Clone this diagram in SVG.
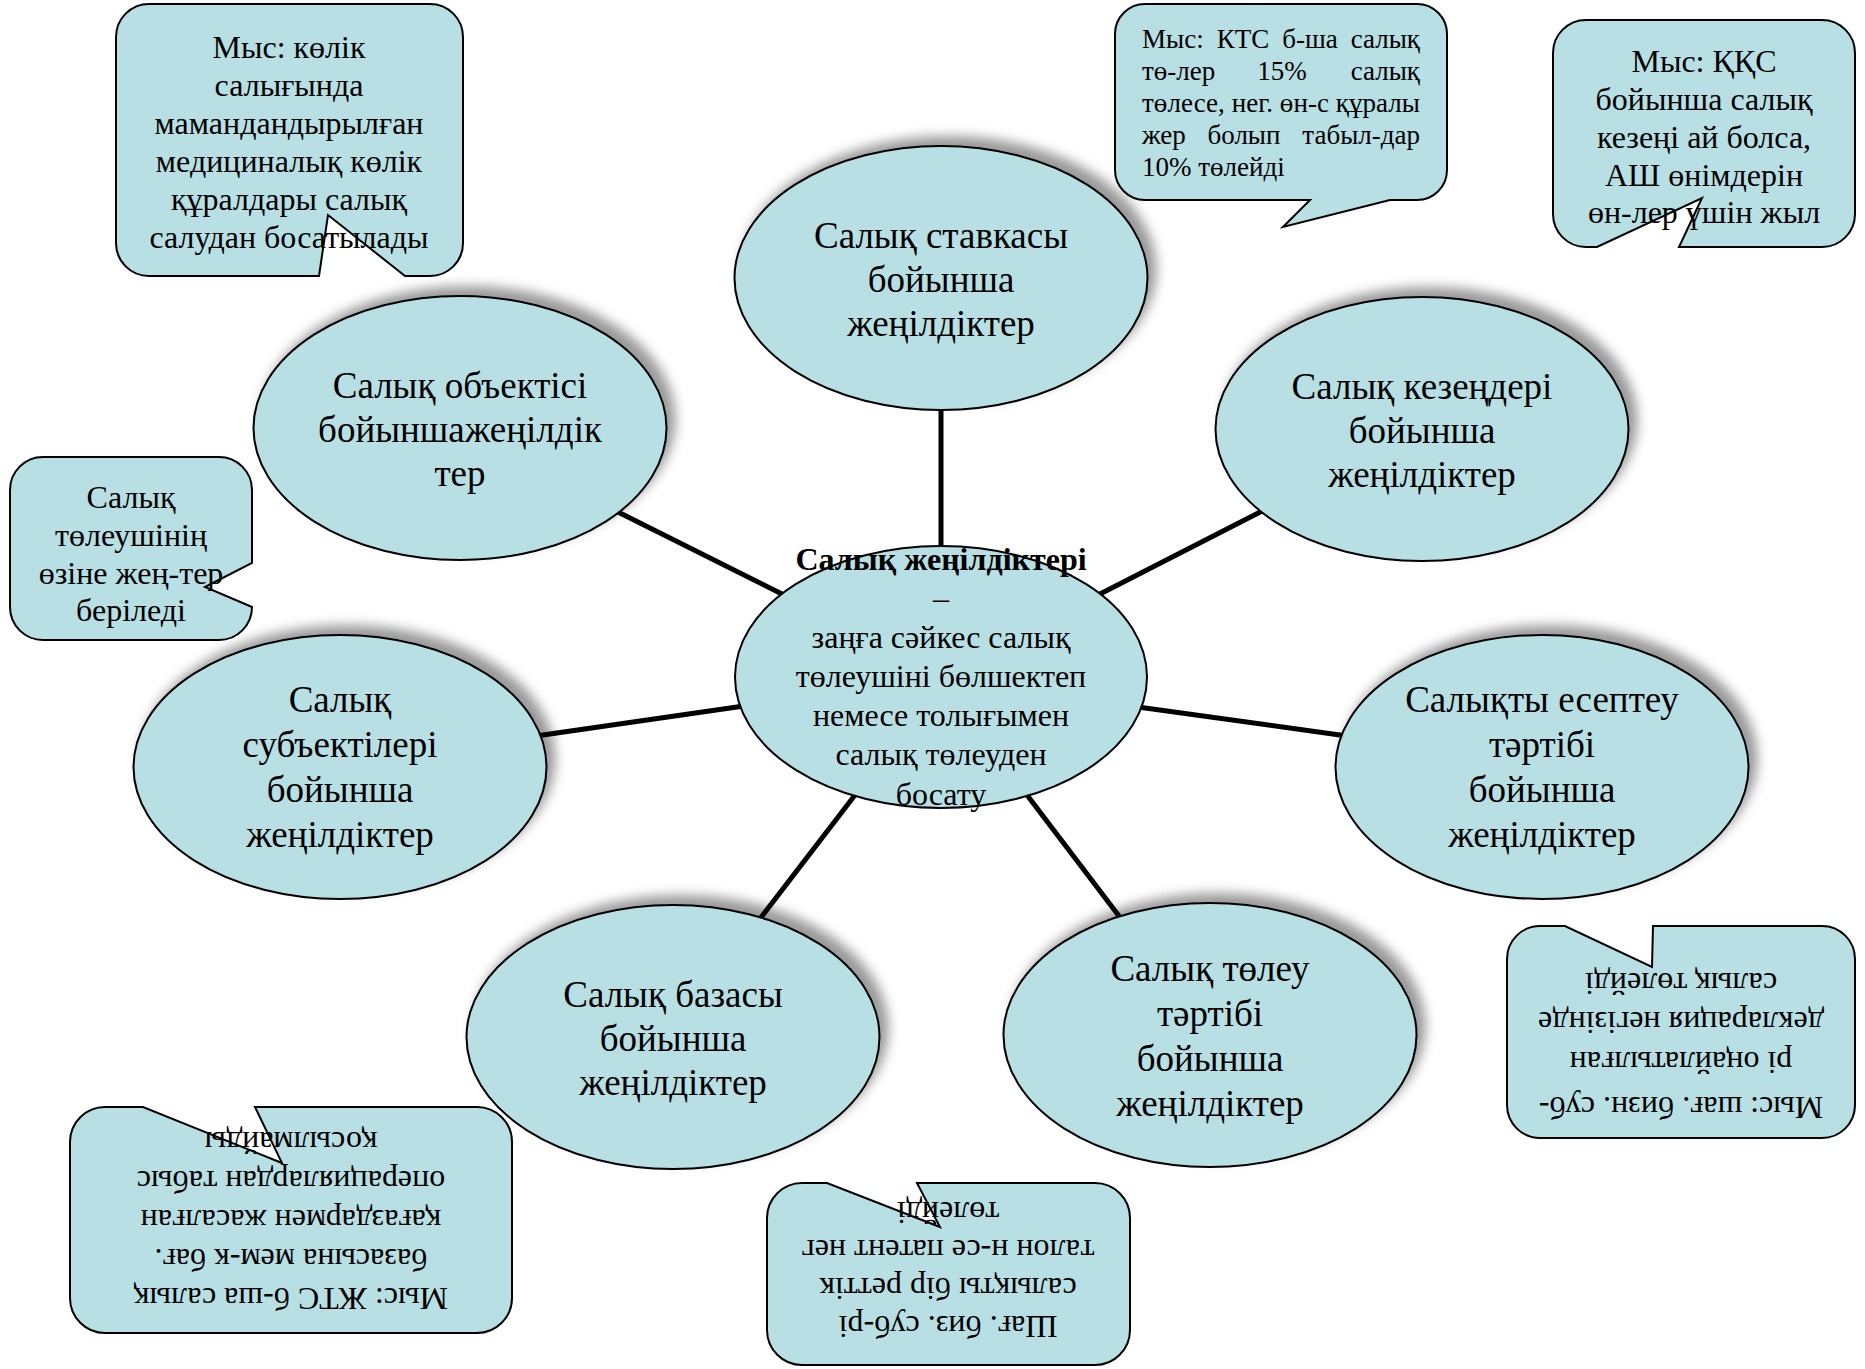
<svg xmlns="http://www.w3.org/2000/svg" width="1865" height="1369" viewBox="0 0 1865 1369">
<style>
.t{font-family:"Liberation Serif","Times New Roman",serif;fill:#000}
.e{font-size:37px;text-anchor:middle}
.c{font-size:32px;text-anchor:middle}
.m{font-size:32px;text-anchor:middle}
.s{font-size:27px}
.ell{fill:#B8DFE3;stroke:#000;stroke-width:2}
.box{fill:#B8DFE3;stroke:#000;stroke-width:2;stroke-linejoin:miter}
.ln{stroke:#000;stroke-width:5;fill:none}
</style>
<defs>
<filter id="sh" x="-15%" y="-20%" width="135%" height="140%">
<feGaussianBlur in="SourceAlpha" stdDeviation="6"/>
<feOffset dx="8" dy="-9" result="b"/>
<feFlood flood-color="#000" flood-opacity="0.4"/>
<feComposite in2="b" operator="in"/>
<feMerge><feMergeNode/><feMergeNode in="SourceGraphic"/></feMerge>
</filter>
</defs>
<rect width="1865" height="1369" fill="#fff"/>
<g id="connectors">
<line class="ln" x1="941" y1="405" x2="941" y2="550"/>
<line class="ln" x1="616" y1="511" x2="782" y2="594"/>
<line class="ln" x1="1268" y1="508" x2="1100" y2="594"/>
<line class="ln" x1="536" y1="736" x2="744" y2="706"/>
<line class="ln" x1="1138" y1="707" x2="1347" y2="736"/>
<line class="ln" x1="855" y1="795" x2="759" y2="920"/>
<line class="ln" x1="1027" y1="795" x2="1122" y2="920"/>
</g>
<g id="node-center">
<ellipse class="ell" cx="941" cy="677" rx="206" ry="131"/>
<text class="t m" x="941" y="570" font-weight="bold">Салық жеңілдіктері</text>
<text class="t m" x="941" y="609">–</text>
<text class="t m" x="941" y="648">заңға сәйкес салық</text>
<text class="t m" x="941" y="687">төлеушіні бөлшектеп</text>
<text class="t m" x="941" y="726">немесе толығымен</text>
<text class="t m" x="941" y="765">салық төлеуден</text>
<text class="t m" x="941" y="805">босату</text>
</g>
<g id="node-rate">
<ellipse class="ell" filter="url(#sh)" cx="941" cy="278" rx="206.5" ry="132"/>
<text class="t e" x="941" y="248">Салық ставкасы</text>
<text class="t e" x="941" y="292">бойынша</text>
<text class="t e" x="941" y="336">жеңілдіктер</text>
</g>
<g id="node-object">
<ellipse class="ell" filter="url(#sh)" cx="460" cy="428" rx="206.5" ry="132"/>
<text class="t e" x="460" y="398">Салық объектісі</text>
<text class="t e" x="460" y="442">бойыншажеңілдік</text>
<text class="t e" x="460" y="486">тер</text>
</g>
<g id="node-period">
<ellipse class="ell" filter="url(#sh)" cx="1422" cy="429" rx="206.5" ry="132"/>
<text class="t e" x="1422" y="399">Салық кезеңдері</text>
<text class="t e" x="1422" y="443">бойынша</text>
<text class="t e" x="1422" y="487">жеңілдіктер</text>
</g>
<g id="node-subject">
<ellipse class="ell" filter="url(#sh)" cx="340" cy="767" rx="206.5" ry="132"/>
<text class="t e" x="340" y="712">Салық</text>
<text class="t e" x="340" y="757">субъектілері</text>
<text class="t e" x="340" y="802">бойынша</text>
<text class="t e" x="340" y="847">жеңілдіктер</text>
</g>
<g id="node-calc">
<ellipse class="ell" filter="url(#sh)" cx="1542" cy="767" rx="206.5" ry="132"/>
<text class="t e" x="1542" y="712">Салықты есептеу</text>
<text class="t e" x="1542" y="757">тәртібі</text>
<text class="t e" x="1542" y="802">бойынша</text>
<text class="t e" x="1542" y="847">жеңілдіктер</text>
</g>
<g id="node-base">
<ellipse class="ell" filter="url(#sh)" cx="673" cy="1037" rx="206.5" ry="132"/>
<text class="t e" x="673" y="1007">Салық базасы</text>
<text class="t e" x="673" y="1051">бойынша</text>
<text class="t e" x="673" y="1095">жеңілдіктер</text>
</g>
<g id="node-payment">
<ellipse class="ell" filter="url(#sh)" cx="1210" cy="1035" rx="206.5" ry="132"/>
<text class="t e" x="1210" y="981">Салық төлеу</text>
<text class="t e" x="1210" y="1026">тәртібі</text>
<text class="t e" x="1210" y="1071">бойынша</text>
<text class="t e" x="1210" y="1116">жеңілдіктер</text>
</g>
<g id="callout-object">
<path class="box" d="M149,4 H430 A33,33 0 0 1 463,37 V243 A33,33 0 0 1 430,276 H405 L328,215 L319,276 H149 A33,33 0 0 1 116,243 V37 A33,33 0 0 1 149,4 Z"/>
<text class="t c" x="289" y="58">Мыс: көлік</text>
<text class="t c" x="289" y="96">салығында</text>
<text class="t c" x="289" y="134">мамандандырылған</text>
<text class="t c" x="289" y="172">медициналық көлік</text>
<text class="t c" x="289" y="210">құралдары салық</text>
<text class="t c" x="289" y="248">салудан босатылады</text>
</g>
<g id="callout-rate">
<path class="box" d="M1145,4 H1417 A30,30 0 0 1 1447,34 V170 A30,30 0 0 1 1417,200 H1390 L1283,227 L1310,200 H1145 A30,30 0 0 1 1115,170 V34 A30,30 0 0 1 1145,4 Z"/>
<text class="t s" x="1142" y="48">Мыс:</text>
<text class="t s" x="1243" y="48" text-anchor="middle">КТС</text>
<text class="t s" x="1310" y="48" text-anchor="middle">б-ша</text>
<text class="t s" x="1420" y="48" text-anchor="end">салық</text>
<text class="t s" x="1142" y="80">тө-лер</text>
<text class="t s" x="1282" y="80" text-anchor="middle">15%</text>
<text class="t s" x="1420" y="80" text-anchor="end">салық</text>
<text class="t s" x="1142" y="112" textLength="278" lengthAdjust="spacing">төлесе, нег. өн-с құралы</text>
<text class="t s" x="1142" y="144">жер</text>
<text class="t s" x="1244" y="144" text-anchor="middle">болып</text>
<text class="t s" x="1420" y="144" text-anchor="end">табыл-дар</text>
<text class="t s" x="1142" y="176">10% төлейді</text>
</g>
<g id="callout-period">
<path class="box" d="M1586,20 H1822 A33,33 0 0 1 1855,53 V214 A33,33 0 0 1 1822,247 H1679 L1702,198 L1597,247 H1586 A33,33 0 0 1 1553,214 V53 A33,33 0 0 1 1586,20 Z"/>
<text class="t c" x="1704" y="72">Мыс: ҚҚС</text>
<text class="t c" x="1704" y="110">бойынша салық</text>
<text class="t c" x="1704" y="148">кезеңі ай болса,</text>
<text class="t c" x="1704" y="186">АШ өнімдерін</text>
<text class="t c" x="1704" y="223">өн-лер үшін жыл</text>
</g>
<g id="callout-subject">
<path class="box" d="M43,457 H219 A33,33 0 0 1 252,490 V563 L205,587 L252,607 A33,33 0 0 1 219,640 H43 A33,33 0 0 1 10,607 V490 A33,33 0 0 1 43,457 Z"/>
<text class="t c" x="131" y="508">Салық</text>
<text class="t c" x="131" y="546">төлеушінің</text>
<text class="t c" x="131" y="584">өзіне жең-тер</text>
<text class="t c" x="131" y="621">беріледі</text>
</g>
<g id="callout-base">
<path class="box" d="M105,1107 H143 L282,1163 L255,1107 H477 A35,35 0 0 1 512,1142 V1298 A35,35 0 0 1 477,1333 H105 A35,35 0 0 1 70,1298 V1142 A35,35 0 0 1 105,1107 Z"/>
<g transform="rotate(180 291 1220)">
<text class="t c" x="291" y="1152">Мыс: ЖТС б-ша салық</text>
<text class="t c" x="291" y="1191">базасына мем-к бағ.</text>
<text class="t c" x="291" y="1230">қағаздармен жасалған</text>
<text class="t c" x="291" y="1269">операциялардан табыс</text>
<text class="t c" x="291" y="1308">қосылмайды</text>
</g>
</g>
<g id="callout-payment">
<path class="box" d="M802,1183 H827 L940,1227 L917,1183 H1095 A35,35 0 0 1 1130,1218 V1330 A35,35 0 0 1 1095,1365 H802 A35,35 0 0 1 767,1330 V1218 A35,35 0 0 1 802,1183 Z"/>
<g transform="rotate(180 948 1274)">
<text class="t c" x="948" y="1232">Шағ. биз. суб-рі</text>
<text class="t c" x="948" y="1270">салықты бір реттік</text>
<text class="t c" x="948" y="1308">талон н-се патент нег</text>
<text class="t c" x="948" y="1346">төлейді</text>
</g>
</g>
<g id="callout-calc">
<path class="box" d="M1540,926 H1565 L1652,967 L1653,926 H1822 A33,33 0 0 1 1855,959 V1105 A33,33 0 0 1 1822,1138 H1540 A33,33 0 0 1 1507,1105 V959 A33,33 0 0 1 1540,926 Z"/>
<g transform="rotate(180 1681 1032)">
<text class="t c" x="1681" y="967">Мыс: шағ. бизн. суб-</text>
<text class="t c" x="1681" y="1012">рі оңайлатылған</text>
<text class="t c" x="1681" y="1052">декларация негізінде</text>
<text class="t c" x="1681" y="1091">салық төлейді</text>
</g>
</g>
</svg>
